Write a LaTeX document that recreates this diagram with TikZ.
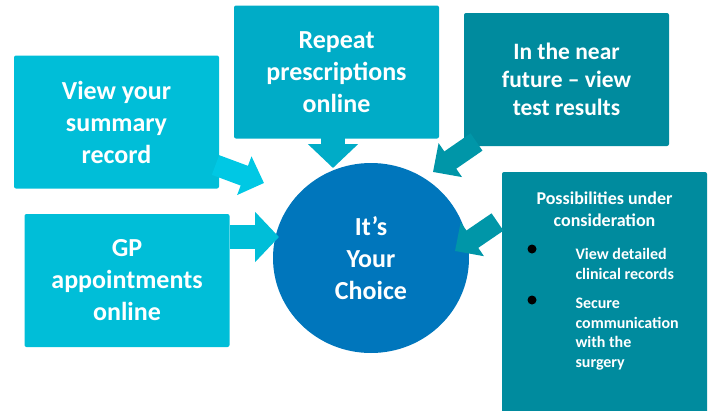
\documentclass[tikz,border=0pt]{standalone}
\usepackage{fontspec}
\setmainfont{Carlito}
\usetikzlibrary{arrows.meta, positioning, shapes.geometric}

\definecolor{cyanbox}{RGB}{0,190,216}
\definecolor{cyanarrow}{RGB}{0,200,228}
\definecolor{repeatbox}{RGB}{0,172,199}
\definecolor{tealbox}{RGB}{0,139,158}
\definecolor{tealarrow}{RGB}{0,150,168}
\definecolor{choiceblue}{RGB}{0,118,188}

\begin{document}
\begin{tikzpicture}[x=1pt, y=-1pt,
    box/.style={rounded corners=2pt, minimum width=205pt, minimum height=133pt,
        align=center, text=white, font=\bfseries\fontsize{26}{32}\selectfont},
    small/.style={text=white, font=\bfseries\fontsize{16}{19.7}\selectfont},
    dot/.style={circle, fill=black, minimum size=9pt, inner sep=0pt},
    straight/.style={line width=24pt, -{Triangle[length=24pt, width=49pt]}},
    slant/.style={line width=21pt, -{Triangle[length=21pt, width=40pt]}}]
    \useasboundingbox (0,0) rectangle (710,410);

    \node[box, fill=cyanbox] (summary) at (116.5,122) {View your\\summary\\record};
    \node[box, fill=repeatbox] (repeat) at (336.5,72) {Repeat\\prescriptions\\online};
    \node[box, fill=tealbox, font=\bfseries\fontsize{23.5}{28}\selectfont] (future) at (566.5,79.5)
        {In the near\\future – view\\test results};
    \node[box, fill=cyanbox] (gp) at (127,280.5) {GP\\appointments\\online};
    \node[box, fill=tealbox, minimum height=245pt] (poss) at (604.5,294.5) {};
    \node[ellipse, fill=choiceblue, minimum width=196pt, minimum height=190pt, inner sep=0pt,
        align=center, text=white, font=\bfseries\fontsize{26}{32}\selectfont] (choice) at (371,258)
        {It’s\\Your\\Choice};

    \node[below=17pt of poss.north, align=center, text=white,
        font=\bfseries\fontsize{18}{22}\selectfont] (posstitle) {Possibilities under\\consideration};
    \node[dot] (dot1) at (532,249) {};
    \node[dot] (dot2) at (532,300) {};
    \node[small, anchor=west, align=left] (item1) at (572,264) {View detailed\\clinical records};
    \node[small, anchor=west, align=left] (item2) at (572,334) {Secure\\communication\\with the\\surgery};

    \coordinate (sumtail) at (215.5,165);
    \coordinate (sumtip) at (264,183);
    \coordinate (reptail) at (333,138);
    \coordinate (reptip) at (333,168);
    \coordinate (futtail) at (476.5,142);
    \coordinate (futtip) at (433,172);
    \coordinate (gptail) at (230,237);
    \coordinate (gptip) at (279,237);
    \coordinate (posstail) at (497.5,222);
    \coordinate (posstip) at (455,251);

    \draw[slant, cyanarrow] (sumtail) -- (sumtip);
    \draw[straight, repeatbox] (reptail) -- (reptip);
    \draw[slant, tealarrow] (futtail) -- (futtip);
    \draw[straight, cyanbox] (gptail) -- (gptip);
    \draw[slant, tealarrow] (posstail) -- (posstip);
\end{tikzpicture}
\end{document}
